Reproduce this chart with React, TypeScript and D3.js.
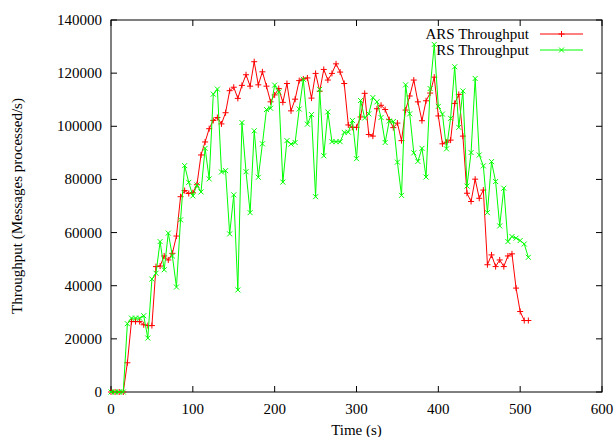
import React from "react";
import * as d3 from "d3";

const times = [0,5,10,15,20,25,30,35,40,45,50,55,60,65,70,75,80,85,90,95,100,105,110,115,120,125,130,135,140,145,150,155,160,165,170,175,180,185,190,195,200,205,210,215,220,225,230,235,240,245,250,255,260,265,270,275,280,285,290,295,300,305,310,315,320,325,330,335,340,345,350,355,360,365,370,375,380,385,390,395,400,405,410,415,420,425,430,435,440,445,450,455,460,465,470,475,480,485,490,495,500,505,510];

const arsThroughput = [0,0,0,0,11000,26500,26500,26500,25300,25000,25000,47200,47400,51200,49700,52200,58700,73500,75800,74700,75000,78000,89200,94100,99100,102200,103300,100900,105100,113400,114700,110500,115400,119400,115100,124300,115600,120500,115100,109200,111800,114200,109000,116100,105800,110200,117200,117800,118200,110600,119900,113200,121400,117400,119900,123500,120400,116100,100500,99600,99600,103500,112400,96900,96300,106600,107900,106300,102500,99500,101200,94600,106100,111400,117400,109200,102100,109600,112500,118500,103900,93400,94000,94800,108600,112000,96300,74800,71700,80100,72900,76000,47900,51600,47200,49700,47200,51200,52000,39100,30300,26900,26900];

const rsThroughput = [0,0,0,0,25700,27800,27800,27800,28700,20300,42500,44700,56600,46000,59800,51200,39500,64800,85200,78900,73800,77900,75300,91700,80200,112100,114000,82800,83300,59500,74200,38400,101400,82900,67500,98300,80800,93400,106300,106800,115500,112900,79000,94600,93300,93900,106500,117700,100800,104400,73500,113900,88900,105400,94200,94200,94200,97700,97800,102200,87800,109700,103100,104700,110800,109200,103300,93900,102000,101800,86500,74000,115600,104700,90000,86800,91700,80900,114200,130800,107500,104600,91500,103000,122400,99600,113300,77500,90100,118000,89200,85100,67500,86700,79200,62500,76700,56600,58500,57900,57000,55700,50700];

const xTicks = [0,100,200,300,400,500,600];
const yTicks = [0,20000,40000,60000,80000,100000,120000,140000];

const seriesNames = ["ARS Throughput", "RS Throughput"];

export default function App() {
  const W = 616, H = 437;
  const x = d3.scaleLinear().domain([0, 600]).range([111, 602]);
  const y = d3.scaleLinear().domain([0, 140000]).range([392, 20]);
  const font = "'Liberation Serif', 'Times New Roman', serif";
  const fs = 15;
  const red = "#ff0000";
  const green = "#00ff00";

  const line = d3.line<number>().x((_, i) => x(times[i])).y((d) => y(d));
  const arsPath = line(arsThroughput) || "";
  const rsPath = line(rsThroughput) || "";

  const plus = (cx: number, cy: number, k: string) => (
    <path key={k} d={`M${cx - 3},${cy}H${cx + 3}M${cx},${cy - 3}V${cy + 3}`} stroke={red} strokeWidth={1} fill="none" />
  );
  const cross = (cx: number, cy: number, k: string) => (
    <path key={k} d={`M${cx - 2.5},${cy - 2.5}L${cx + 2.5},${cy + 2.5}M${cx - 2.5},${cy + 2.5}L${cx + 2.5},${cy - 2.5}`} stroke={green} strokeWidth={1} fill="none" />
  );

  const [x0, x1] = x.range();
  const [yb, yt] = y.range();
  const tl = 6;

  return (
    <svg width={W} height={H} style={{ position: "absolute", left: 0, top: 0, background: "#fff" }} fontFamily={font} fontSize={fs}>
      <rect x={0} y={0} width={W} height={H} fill="#fff" />
      {/* ticks */}
      {xTicks.map((t) => (
        <g key={"xt" + t}>
          <line x1={x(t)} x2={x(t)} y1={yb} y2={yb - tl} stroke="#000" strokeWidth={1} />
          <line x1={x(t)} x2={x(t)} y1={yt} y2={yt + tl} stroke="#000" strokeWidth={1} />
          <text x={x(t)} y={yb + 22} textAnchor="middle">{t}</text>
        </g>
      ))}
      {yTicks.map((t) => (
        <g key={"yt" + t}>
          <line x1={x0} x2={x0 + tl} y1={y(t)} y2={y(t)} stroke="#000" strokeWidth={1} />
          <line x1={x1} x2={x1 - tl} y1={y(t)} y2={y(t)} stroke="#000" strokeWidth={1} />
          <text x={x0 - 9} y={y(t) + 5} textAnchor="end">{t}</text>
        </g>
      ))}
      <rect x={x0} y={yt} width={x1 - x0} height={yb - yt} fill="none" stroke="#000" strokeWidth={1} />
      {/* axis labels */}
      <text x={(x0 + x1) / 2} y={435} textAnchor="middle">Time (s)</text>
      <text transform={`translate(22,${(yb + yt) / 2}) rotate(-90)`} textAnchor="middle">Throughput (Messages processed/s)</text>
      {/* series */}
      <path d={arsPath} fill="none" stroke={red} strokeWidth={1} />
      {arsThroughput.map((v, i) => plus(x(times[i]), y(v), "a" + i))}
      <path d={rsPath} fill="none" stroke={green} strokeWidth={1} />
      {rsThroughput.map((v, i) => cross(x(times[i]), y(v), "r" + i))}
      {/* legend */}
      <text x={529} y={39} textAnchor="end">{seriesNames[0]}</text>
      <line x1={540} x2={583} y1={34} y2={34} stroke={red} strokeWidth={1} />
      {plus(561.5, 34, "lg0")}
      <text x={529} y={55} textAnchor="end">{seriesNames[1]}</text>
      <line x1={540} x2={583} y1={50} y2={50} stroke={green} strokeWidth={1} />
      {cross(561.5, 50, "lg1")}
    </svg>
  );
}
